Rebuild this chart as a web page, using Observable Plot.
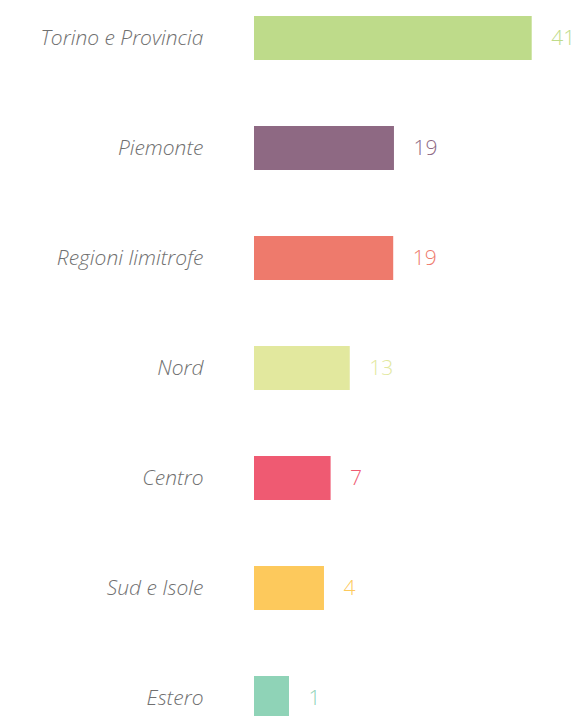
<!DOCTYPE html>
<html>
<head>
<meta charset="utf-8">
<script src="https://cdn.jsdelivr.net/npm/d3@7"></script>
<script src="https://cdn.jsdelivr.net/npm/@observablehq/plot@0.6"></script>
<style>
  html, body { margin: 0; padding: 0; background: #fff; overflow: hidden; }
  #chart svg { display: block; }
</style>
</head>
<body>
<div id="chart"></div>
<script>
// Categories (top to bottom)
const categories = ["Torino e Provincia", "Piemonte", "Regioni limitrofe", "Nord", "Centro", "Sud e Isole", "Estero"];
// Values printed next to the bars
const values = [41, 19, 19, 13, 7, 4, 1];
// Bar lengths as drawn in the picture (same units)
const barLengths = [37.7, 19, 18.9, 13, 10.4, 9.5, 4.75];
// Bar colours
const colors = ["#bedb8a", "#8e6983", "#ee7a6c", "#e2e89e", "#ef5a72", "#fdc95c", "#8fd3b7"];

const data = categories.map((c, i) => ({
  category: c,
  value: values[i],
  length: barLengths[i],
  color: colors[i]
}));

const chart = Plot.plot({
  width: 574,
  height: 716,
  marginLeft: 0,
  marginRight: 0,
  marginTop: 0,
  marginBottom: 0,
  style: { background: "#fff", fontFamily: "'Open Sans', Lato, sans-serif" },
  x: { domain: [0, 41], range: [254, 556], axis: null },
  y: { domain: categories, range: [15.5, 721], padding: 0.6, paddingOuter: 0, axis: null },
  marks: [
    Plot.barX(data, { x: "length", y: "category", fill: "color" }),
    Plot.text(data, {
      x: 0, y: "category", text: "category",
      textAnchor: "end", dx: -51,
      fill: "#707070", fontSize: 21, fontStyle: "italic", fontWeight: 300,
      letterSpacing: "1.1px"
    }),
    Plot.text(data, {
      x: "length", y: "category", text: d => String(d.value),
      textAnchor: "start", dx: 19,
      fill: "color", fontSize: 21, fontWeight: 300
    })
  ]
});
document.getElementById("chart").appendChild(chart);
</script>
</body>
</html>
